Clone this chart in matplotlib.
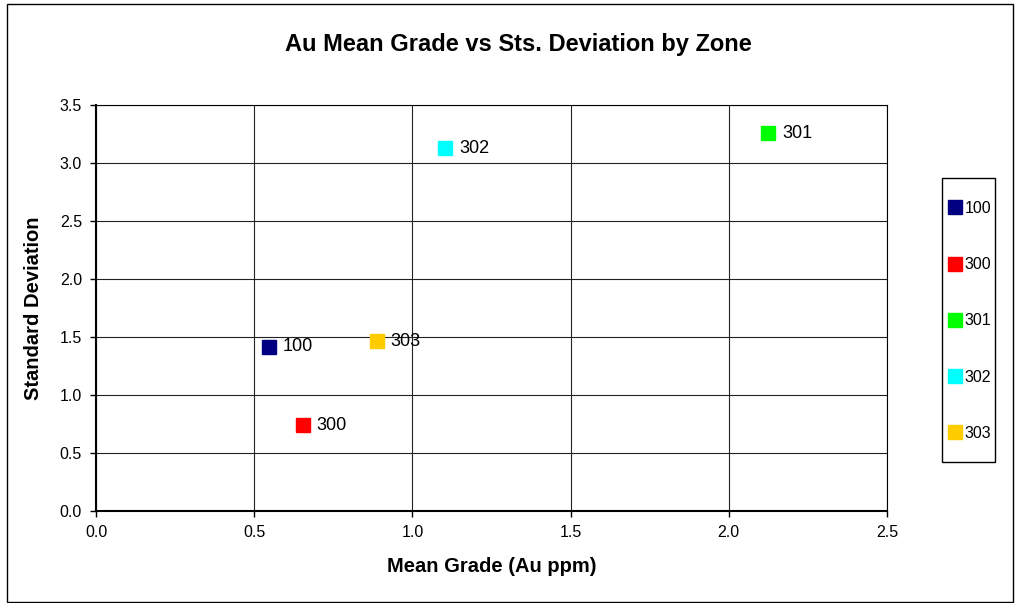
import matplotlib
matplotlib.use("Agg")
import matplotlib.pyplot as plt
from matplotlib.patches import Rectangle
from matplotlib.ticker import FormatStrFormatter

plt.rcParams['font.family'] = ['Liberation Sans', 'DejaVu Sans']

# Mean grade and standard deviation by zone
zones = ['100', '300', '301', '302', '303']
mean_grade = [0.547, 0.654, 2.124, 1.103, 0.887]
std_dev = [1.415, 0.741, 3.258, 3.129, 1.464]
colors = ['#000080', '#FF0000', '#00FF00', '#00FFFF', '#FFCC00']

W, H = 1015, 603
fig = plt.figure(figsize=(W / 100, H / 100), dpi=100)
ax = fig.add_axes([96 / W, 1 - 511 / H, 791 / W, 406 / H])

for zone, x, y, c in zip(zones, mean_grade, std_dev, colors):
    ax.plot(x, y, linestyle='none', marker='s', markersize=10, color=c,
            markeredgecolor=c, label=zone, zorder=3)
    ax.annotate(zone, (x, y), xytext=(10, 0), textcoords='offset points',
                va='center', ha='left', fontsize=13)

ax.set_xlim(0, 2.5)
ax.set_ylim(0, 3.5)
ax.set_xticks([0.0, 0.5, 1.0, 1.5, 2.0, 2.5])
ax.set_yticks([0.0, 0.5, 1.0, 1.5, 2.0, 2.5, 3.0, 3.5])
ax.xaxis.set_major_formatter(FormatStrFormatter('%.1f'))
ax.yaxis.set_major_formatter(FormatStrFormatter('%.1f'))
ax.tick_params(labelsize=11.5, direction='out', length=4, width=1, pad=6)
ax.grid(True, color='#222222', linewidth=0.8)
ax.set_axisbelow(True)
for side in ['left', 'bottom']:
    ax.spines[side].set_linewidth(1.5)
for side in ['top', 'right']:
    ax.spines[side].set_linewidth(0.8)

ax.set_xlabel('Mean Grade (Au ppm)', fontsize=14.5, fontweight='bold', labelpad=12)
ax.set_ylabel('Standard Deviation', fontsize=14.5, fontweight='bold', labelpad=12)
fig.text(518 / W, 1 - 45 / H, 'Au Mean Grade vs Sts. Deviation by Zone',
         fontsize=17, fontweight='bold', ha='center', va='center')

# legend entries without frame; box drawn separately
leg = fig.legend(loc='upper left', bbox_to_anchor=(947 / W, 1 - 201 / H),
                 frameon=False, fontsize=11.5, handlelength=1.0,
                 handletextpad=0.12, labelspacing=2.58, borderpad=0,
                 borderaxespad=0)
fig.patches.append(Rectangle((942 / W, 1 - 462 / H), 53 / W, 284 / H,
                             transform=fig.transFigure, fill=False,
                             edgecolor='black', linewidth=1.0))

# outer chart border
fig.patches.append(Rectangle((7 / W, 1 / H), 1006 / W, 598 / H,
                             transform=fig.transFigure, fill=False,
                             edgecolor='black', linewidth=1.0))

fig.savefig('out.png', dpi=100)
